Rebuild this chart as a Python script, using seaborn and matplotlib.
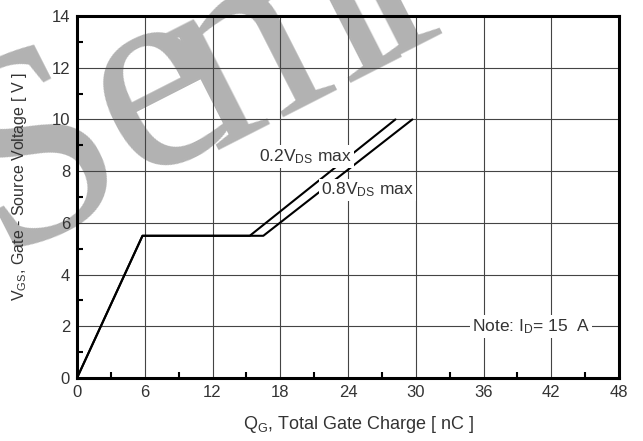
import matplotlib
matplotlib.use("Agg")
import matplotlib.pyplot as plt
import seaborn as sns
import pandas as pd
from matplotlib.ticker import MultipleLocator

# data
q_02 = [0, 5.8, 15.3, 28.2]
v_02 = [0, 5.5, 5.5, 10.0]
q_08 = [0, 5.8, 16.5, 29.7]
v_08 = [0, 5.5, 5.5, 10.0]
x_ticks = [0, 6, 12, 18, 24, 30, 36, 42, 48]
y_ticks = [0, 2, 4, 6, 8, 10, 12, 14]
watermark_letters = ["S", "e", "m", "i"]

sns.set_style("white")
plt.rcParams['font.family'] = ['Liberation Sans', 'DejaVu Sans']
plt.rcParams['mathtext.fontset'] = 'custom'
plt.rcParams['mathtext.rm'] = 'Liberation Sans'
plt.rcParams['mathtext.it'] = 'Liberation Sans'

W, H = 643, 441
fig = plt.figure(figsize=(W / 100, H / 100), dpi=100)
ax = fig.add_axes([77/W, 1-378/H, (619-77)/W, (378-16)/H])
ax.patch.set_visible(False)

# watermark (below everything), letters placed along a tilted baseline
wm_pos = [(68, 218), (188, 152), (308, 100), (412, 46)]
for ch, (px, py) in zip(watermark_letters, wm_pos):
    fig.text(px / W, 1 - py / H, ch, fontsize=200, family="Liberation Serif",
             color="#b2b2b2", rotation=27, rotation_mode="anchor",
             ha="center", va="baseline", zorder=-5)

df02 = pd.DataFrame({"q": q_02, "v": v_02})
df08 = pd.DataFrame({"q": q_08, "v": v_08})
sns.lineplot(data=df02, x="q", y="v", ax=ax, color="black", lw=1.5, sort=False, zorder=3)
sns.lineplot(data=df08, x="q", y="v", ax=ax, color="black", lw=1.5, sort=False, zorder=3)

ax.set_xlim(0, 48)
ax.set_ylim(0, 14)
ax.set_xticks(x_ticks)
ax.set_yticks(y_ticks)
ax.xaxis.set_minor_locator(MultipleLocator(3))
ax.yaxis.set_minor_locator(MultipleLocator(1))
ax.grid(True, which="major", color="#444444", lw=0.8, zorder=1)
ax.tick_params(which="major", length=0, labelsize=12, labelcolor="#333333", pad=5)
ax.tick_params(which="minor", direction="in", length=4, width=1.5, color="black",
               bottom=True, left=True)
for s in ax.spines.values():
    s.set_linewidth(2.2)
    s.set_color("black")
    s.set_zorder(4)

ax.set_xlabel("Q$_G$, Total Gate Charge [ nC ]", fontsize=13, color="#333333")
ax.set_ylabel("V$_{GS}$, Gate - Source Voltage [ V ]", fontsize=11.5, color="#333333")
ax.xaxis.set_label_coords((359 - 77) / 542, (378 - 414) / 362)
ax.yaxis.set_label_coords((29 - 77) / 542, (378 - 187) / 362)

bb = dict(facecolor="white", edgecolor="none", pad=1.5)
ax.text(20.2, 8.55, "0.2V$_{DS}$ max", fontsize=12.5, color="#333333", ha="center", va="center", bbox=bb, zorder=5)
ax.text(21.6, 7.27, "0.8V$_{DS}$ max", fontsize=12.5, color="#333333", ha="left", va="center", bbox=bb, zorder=5)
ax.text(40.2, 2.0, "Note: I$_D$= 15  A", fontsize=12.5, color="#333333", ha="center", va="center", bbox=bb, zorder=5)

fig.savefig("out.png", dpi=100)
